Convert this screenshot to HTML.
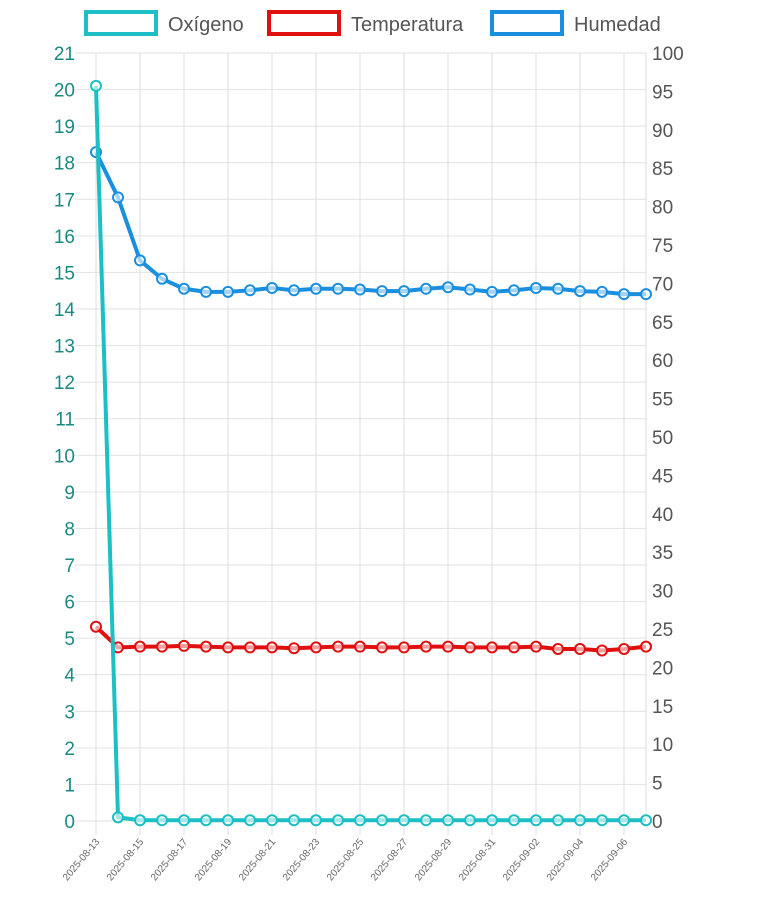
<!DOCTYPE html>
<html><head><meta charset="utf-8"><style>
body{margin:0;background:#fff;font-family:"Liberation Sans",sans-serif}
</style></head><body>
<svg id="c" width="760" height="900" xmlns="http://www.w3.org/2000/svg"></svg>
<script>
const dates=["2025-08-13","2025-08-14","2025-08-15","2025-08-16","2025-08-17","2025-08-18","2025-08-19","2025-08-20","2025-08-21","2025-08-22","2025-08-23","2025-08-24","2025-08-25","2025-08-26","2025-08-27","2025-08-28","2025-08-29","2025-08-30","2025-08-31","2025-09-01","2025-09-02","2025-09-03","2025-09-04","2025-09-05","2025-09-06","2025-09-07"];
const oxigeno=[20.1,0.1,0.02,0.02,0.02,0.02,0.02,0.02,0.02,0.02,0.02,0.02,0.02,0.02,0.02,0.02,0.02,0.02,0.02,0.02,0.02,0.02,0.02,0.02,0.02,0.02];
const temperatura=[25.3,22.6,22.7,22.7,22.8,22.7,22.6,22.6,22.6,22.5,22.6,22.7,22.7,22.6,22.6,22.7,22.7,22.6,22.6,22.6,22.7,22.4,22.4,22.2,22.4,22.7];
const humedad=[87.1,81.2,73.0,70.6,69.3,68.9,68.9,69.1,69.4,69.1,69.3,69.3,69.2,69.0,69.0,69.3,69.5,69.2,68.9,69.1,69.4,69.3,69.0,68.9,68.6,68.6];
const leftTicks=[0,1,2,3,4,5,6,7,8,9,10,11,12,13,14,15,16,17,18,19,20,21];
const rightTicks=[0,5,10,15,20,25,30,35,40,45,50,55,60,65,70,75,80,85,90,95,100];
const svg=document.getElementById('c');const NS="http://www.w3.org/2000/svg";
const X0=96,DX=22,Y0=821,Y1=53;
const x=i=>X0+i*DX;
const yL=v=>Y0-(v/21)*(Y0-Y1);
const yR=v=>Y0-(v/100)*(Y0-Y1);
function el(t,a,p){const e=document.createElementNS(NS,t);for(const k in a)e.setAttribute(k,a[k]);(p||svg).appendChild(e);return e;}
const grid=el('g',{});
leftTicks.forEach(v=>{el('line',{x1:75,x2:646,y1:yL(v),y2:yL(v),stroke:'#e2e2e2','stroke-width':1},grid);
 const t=el('text',{x:75,y:yL(v)+7,'text-anchor':'end','font-size':19,fill:'#1a8a80'});t.textContent=v;
 });
rightTicks.forEach(v=>{const t=el('text',{x:652,y:yR(v)+7,'font-size':19,fill:'#555'});t.textContent=v;
 });
dates.forEach((d,i)=>{if(i%2)return;el('line',{x1:x(i),x2:x(i),y1:Y1,y2:835,stroke:'#dcdcdc','stroke-width':1},grid);
 const t=el('text',{x:x(i)+4,y:842,'text-anchor':'end','font-size':10,fill:'#666',transform:`rotate(-50 ${x(i)+4} 842)`});t.textContent=d;
 });
el('line',{x1:646,x2:646,y1:Y1,y2:Y0,stroke:'#dcdcdc'},grid);
function series(vals,fy,color,name){const g=el('g',{});
 el('polyline',{points:vals.map((v,i)=>x(i)+','+fy(v)).join(' '),fill:'none',stroke:color,'stroke-width':4,'stroke-linejoin':'round'},g);
 vals.forEach((v,i)=>{const c=el('circle',{cx:x(i),cy:fy(v),r:5,fill:'#fff','fill-opacity':0.6,stroke:color,'stroke-width':2},g);
 });}
series(humedad,yR,'#1a8fe0','humedad-line');
series(temperatura,yR,'#e01010','temperatura-line');
series(oxigeno,yL,'#1cc0c4','oxigeno-line');
const leg=[["Oxígeno","#1cc0c4",84],["Temperatura","#e01010",267],["Humedad","#1a8fe0",490]];
leg.forEach(([n,c,lx])=>{const g=el('g',{});
 el('rect',{x:lx+2,y:12,width:70,height:22,fill:'#fff',stroke:c,'stroke-width':4},g);
 const t=el('text',{x:lx+84,y:31,'font-size':20,fill:'#555'},g);t.textContent=n;});
</script>
</body></html>
